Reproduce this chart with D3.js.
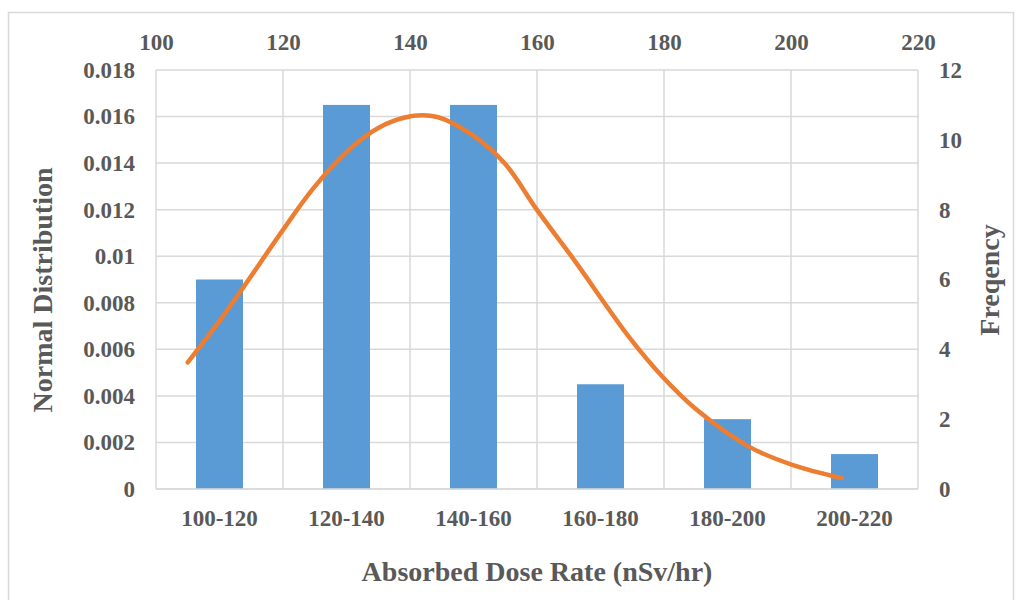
<!DOCTYPE html>
<html>
<head>
    <meta charset="utf-8">
    <title>dose rate histogram</title>
    <style>
        body { margin: 0; background: #fff; }
        text { font-family: "Liberation Serif", "Times New Roman", serif; font-weight: bold; fill: #595959; }
    </style>
</head>
<body>
<script src="https://cdnjs.cloudflare.com/ajax/libs/d3/7.8.5/d3.min.js"></script>
<script type="text/javascript">
    // bars (right axis)
    var categories = ["100-120", "120-140", "140-160", "160-180", "180-200", "200-220"];
    var frequency = [6, 11, 11, 3, 2, 1];
    // normal curve (top + left axis)
    var doseRate = [105.0, 110.3, 113.7, 120.0, 124.7, 129.8, 135.0, 140.3, 144.3, 149.8,
                    155.0, 160.0, 165.5, 174.6, 179.8, 185.2, 193.5, 200.3, 208.0];
    var normalDist = [0.00544, 0.00733, 0.00864, 0.01113, 0.01289, 0.01443, 0.01551, 0.01602, 0.01598, 0.01521,
                      0.01396, 0.01199, 0.00997, 0.00649, 0.00481, 0.00339, 0.0018, 0.00103, 0.00047];
    var leftTicks = [0, 0.002, 0.004, 0.006, 0.008, 0.01, 0.012, 0.014, 0.016, 0.018];
    var rightTicks = [0, 2, 4, 6, 8, 10, 12];
    var topTicks = [100, 120, 140, 160, 180, 200, 220];

    var width = 1022, height = 600;
    var pLeft = 156, pRight = 918, pTop = 70, pBottom = 489;

    var svg = d3.select('body').append('svg')
        .attr('width', width).attr('height', height);

    // outer frame
    svg.append('rect')
        .attr('x', 8.5).attr('y', 12.5)
        .attr('width', 1005).attr('height', 600)
        .attr('fill', 'none').attr('stroke', '#d9d9d9').attr('stroke-width', 1.5);

    var xBand = d3.scaleBand().domain(categories).range([pLeft, pRight]).paddingInner(0.63).paddingOuter(0.315);
    var xTop = d3.scaleLinear().domain([100, 220]).range([pLeft, pRight]);
    var yLeft = d3.scaleLinear().domain([0, 0.018]).range([pBottom, pTop]);
    var yRight = d3.scaleLinear().domain([0, 12]).range([pBottom, pTop]);

    // gridlines
    svg.append('g').selectAll('line').data(leftTicks).enter().append('line')
        .attr('x1', pLeft).attr('x2', pRight)
        .attr('y1', function (d) { return yLeft(d); })
        .attr('y2', function (d) { return yLeft(d); })
        .attr('stroke', '#d9d9d9').attr('stroke-width', 1.5);
    svg.append('g').selectAll('line').data(topTicks).enter().append('line')
        .attr('x1', function (d) { return xTop(d); })
        .attr('x2', function (d) { return xTop(d); })
        .attr('y1', pTop).attr('y2', pBottom)
        .attr('stroke', '#d9d9d9').attr('stroke-width', 1.5);

    // bars
    svg.append('g').selectAll('rect').data(frequency).enter().append('rect')
        .attr('x', function (d, i) { return xBand(categories[i]); })
        .attr('y', function (d) { return yRight(d); })
        .attr('width', xBand.bandwidth())
        .attr('height', function (d) { return pBottom - yRight(d); })
        .attr('fill', '#5b9bd5');

    // normal distribution line
    var pts = doseRate.map(function (d, i) { return [d, normalDist[i]]; });
    var line = d3.line()
        .x(function (d) { return xTop(d[0]); })
        .y(function (d) { return yLeft(d[1]); })
        .curve(d3.curveCatmullRom.alpha(0.5));
    svg.append('path').datum(pts)
        .attr('d', line)
        .attr('fill', 'none').attr('stroke', '#ed7d31')
        .attr('stroke-width', 4.5).attr('stroke-linecap', 'round').attr('stroke-linejoin', 'round');

    // axes
    var fmt = function (d) { return d3.format('~g')(+d.toFixed(3)); };
    var axL = svg.append('g').attr('transform', 'translate(' + pLeft + ',0)')
        .call(d3.axisLeft(yLeft).tickValues(leftTicks).tickSize(0).tickPadding(21).tickFormat(fmt));
    var axR = svg.append('g').attr('transform', 'translate(' + pRight + ',0)')
        .call(d3.axisRight(yRight).tickValues(rightTicks).tickSize(0).tickPadding(21));
    var axT = svg.append('g').attr('transform', 'translate(0,' + pTop + ')')
        .call(d3.axisTop(xTop).tickValues(topTicks).tickSize(0).tickPadding(20));
    var axB = svg.append('g').attr('transform', 'translate(0,' + pBottom + ')')
        .call(d3.axisBottom(xBand).tickSize(0).tickPadding(21));

    [axL, axR, axT, axB].forEach(function (ax) {
        ax.select('.domain').remove();
        ax.selectAll('text').attr('font-size', 23)
            .style('font-family', '"Liberation Serif", "Times New Roman", serif')
            .style('font-weight', 'bold').attr('fill', '#595959');
    });

    // bottom axis line
    svg.append('line')
        .attr('x1', pLeft).attr('x2', pRight).attr('y1', pBottom).attr('y2', pBottom)
        .attr('stroke', '#d9d9d9').attr('stroke-width', 1.5);

    // axis titles
    svg.append('text').text('Absorbed Dose Rate (nSv/hr)')
        .attr('x', (pLeft + pRight) / 2).attr('y', 581)
        .attr('text-anchor', 'middle').attr('font-size', 28);
    svg.append('text').text('Normal Distribution')
        .attr('transform', 'translate(52,290) rotate(-90)')
        .attr('text-anchor', 'middle').attr('font-size', 28);
    svg.append('text').text('Freqency')
        .attr('transform', 'translate(999,280) rotate(-90)')
        .attr('text-anchor', 'middle').attr('font-size', 28);
</script>
</body>
</html>
